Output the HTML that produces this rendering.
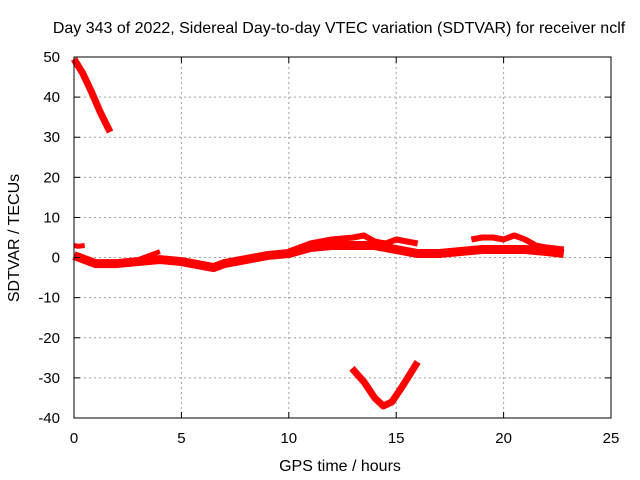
<!DOCTYPE html>
<html><head><meta charset="utf-8"><style>
body{margin:0;background:#fff}
svg{display:block;font-family:"Liberation Sans",sans-serif}
</style></head><body>
<svg id="chart" width="640" height="480" viewBox="0 0 640 480">
<rect width="640" height="480" fill="#fff"/>
<text x="339" y="33" font-size="16" text-anchor="middle">Day 343 of 2022, Sidereal Day-to-day VTEC variation (SDTVAR) for receiver nclf</text>
<text x="340" y="471" font-size="16" text-anchor="middle">GPS time / hours</text>
<text transform="translate(19,238) rotate(-90)" font-size="16" text-anchor="middle">SDTVAR / TECUs</text>
<g id="grid"></g>
<g id="series"></g>
<rect x="74" y="57" width="537" height="361" fill="none" stroke="#000" stroke-width="1"/>
<g id="ticks"></g>
</svg>
<script>
const xTicks=[0,5,10,15,20,25];
const yTicks=[50,40,30,20,10,0,-10,-20,-30,-40];
const topArcH=[0,0.4,0.8,1.2,1.68];
const topArcV=[49.5,46,41.5,36.5,31.3];
const lowBandH=[0,0.5,1,2,3,4,5,6,6.5,7,8,9,10,11,12,13,14,15,16,17,18,19,20,21,22,22.8];
const lowBandV=[0.5,-0.5,-1.5,-1.5,-1,-0.5,-1,-2,-2.5,-1.5,-0.5,0.5,1,2.5,3,3,3,2,1,1,1.5,2,2,2,1.5,1];
const upBandH=[10,11,12,13,13.5,14,14.5,15,15.5,16];
const upBandV=[1.5,3.5,4.5,5,5.5,4,3.5,4.5,4,3.5];
const up2H=[18.5,19,19.5,20,20.5,21,21.5,22,22.8];
const up2V=[4.5,5,5,4.5,5.5,4.5,3,2.5,2];
const startH=[0,0.2,0.5];
const startV=[3,2.8,3];
const branchH=[2.5,3,3.5,4];
const branchV=[-1,-0.5,0.5,1.5];
const vH=[12.94,13.5,14,14.4,14.8,15.3,16];
const vV=[-27.6,-31,-35,-37,-36,-32,-26];
const X=h=>74+h*21.48, Y=v=>57+(50-v)*4.011;
const NS="http://www.w3.org/2000/svg";
const grid=document.getElementById('grid'),ticks=document.getElementById('ticks'),ser=document.getElementById('series');
function mk(tag,a,parent){const e=document.createElementNS(NS,tag);for(const k in a)e.setAttribute(k,a[k]);parent.appendChild(e);return e;}
xTicks.forEach(t=>{const x=X(t);
 if(t>0&&t<25){const g=mk('line',{x1:x,x2:x,y1:57,y2:418,stroke:'#a0a0a0','stroke-dasharray':'2,3'},grid);
 
 }
 mk('line',{x1:x,x2:x,y1:418,y2:412,stroke:'#000'},ticks);mk('line',{x1:x,x2:x,y1:57,y2:63,stroke:'#000'},ticks);
 const tx=mk('text',{x:x,y:443,'font-size':15,'text-anchor':'middle'},ticks);tx.textContent=t;
 
 });
yTicks.forEach(t=>{const y=Y(t);
 if(t<50&&t>-40){const g=mk('line',{x1:74,x2:611,y1:y,y2:y,stroke:'#a0a0a0','stroke-dasharray':'2,3'},grid);
 
 }
 mk('line',{x1:74,x2:80,y1:y,y2:y,stroke:'#000'},ticks);mk('line',{x1:611,x2:605,y1:y,y2:y,stroke:'#000'},ticks);
 const tx=mk('text',{x:60,y:y+5,'font-size':15,'text-anchor':'end'},ticks);tx.textContent=t;
 
 });
function line(H,V,name,w){const p=mk('polyline',{points:H.map((h,i)=>X(h)+','+Y(V[i])).join(' '),fill:'none',stroke:'#f00','stroke-width':w,'stroke-linejoin':'round','stroke-linecap':'butt'},ser);
 
 }
line(topArcH,topArcV,'series-top-arc',7);
line(lowBandH,lowBandV,'series-low-band',9);
line(upBandH,upBandV,'series-upper-band',6);
line(up2H,up2V,'series-upper-band-2',6);
line(startH,startV,'series-start',5);
line(branchH,branchV,'series-branch',5);
line(vH,vV,'series-v-dip',7);
</script>
</body></html>
